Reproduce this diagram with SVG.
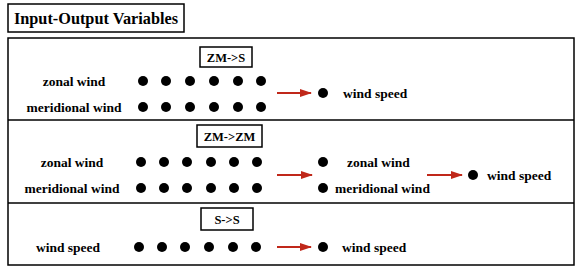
<svg xmlns="http://www.w3.org/2000/svg" width="582" height="274" viewBox="0 0 582 274">
<style>
  .t{font-family:"Liberation Serif","Times New Roman",serif;font-weight:bold;fill:#000}
  .lbl{font-size:13.5px;text-anchor:middle}
  .lbs{font-size:13.5px}
  .box{fill:#fff;stroke:#000;stroke-width:1.5}
  .d{fill:#000}
  .arr{stroke:#c0281a;stroke-width:2.2;fill:none;marker-end:url(#ah)}
</style>
<defs>
  <marker id="ah" markerWidth="12" markerHeight="8" refX="11" refY="4" orient="auto" markerUnits="userSpaceOnUse">
    <path d="M0,0 L12,4 L0,8 Z" fill="#c0281a"/>
  </marker>
</defs>
<rect width="582" height="274" fill="#fff"/>
<g id="title">
  <rect class="box" x="8" y="4" width="176" height="28"/>
  <text class="t" x="96" y="24" font-size="16.3" text-anchor="middle">Input-Output Variables</text>
</g>
<g id="frame">
  <rect class="box" x="8" y="38" width="566" height="227" fill="none"/>
  <line x1="8" y1="120" x2="574" y2="120" stroke="#000" stroke-width="1.5"/>
  <line x1="8" y1="203" x2="574" y2="203" stroke="#000" stroke-width="1.5"/>
</g>
<g id="panel1">
  <rect class="box" x="200" y="47" width="52" height="20"/>
  <text class="t" x="226" y="62" font-size="12.5" text-anchor="middle">ZM-&gt;S</text>
  <text class="t lbl" x="74" y="86">zonal wind</text>
  <text class="t lbl" x="74" y="112">meridional wind</text>
  <g class="d">
    <circle cx="143" cy="81" r="5"/><circle cx="166" cy="81" r="5"/><circle cx="190" cy="81" r="5"/><circle cx="214" cy="81" r="5"/><circle cx="238" cy="81" r="5"/><circle cx="261" cy="81" r="5"/>
    <circle cx="143" cy="107" r="5"/><circle cx="166" cy="107" r="5"/><circle cx="190" cy="107" r="5"/><circle cx="214" cy="107" r="5"/><circle cx="238" cy="107" r="5"/><circle cx="261" cy="107" r="5"/>
    <circle cx="323" cy="93" r="5"/>
  </g>
  <text class="t lbs" x="343" y="98">wind speed</text>
</g>
<g id="panel2">
  <rect class="box" x="197" y="125" width="65" height="22"/>
  <text class="t" x="229.5" y="141" font-size="12.5" text-anchor="middle">ZM-&gt;ZM</text>
  <text class="t lbl" x="72" y="167">zonal wind</text>
  <text class="t lbl" x="72" y="193">meridional wind</text>
  <g class="d">
    <circle cx="141" cy="162" r="5"/><circle cx="164" cy="162" r="5"/><circle cx="187" cy="162" r="5"/><circle cx="211" cy="162" r="5"/><circle cx="234" cy="162" r="5"/><circle cx="257" cy="162" r="5"/>
    <circle cx="141" cy="188" r="5"/><circle cx="164" cy="188" r="5"/><circle cx="187" cy="188" r="5"/><circle cx="211" cy="188" r="5"/><circle cx="234" cy="188" r="5"/><circle cx="257" cy="188" r="5"/>
    <circle cx="323" cy="162" r="5"/><circle cx="323" cy="188" r="5"/>
    <circle cx="473" cy="175" r="5"/>
  </g>
  <text class="t lbs" x="347" y="167">zonal wind</text>
  <text class="t lbs" x="335" y="193">meridional wind</text>
  <text class="t lbs" x="487" y="180">wind speed</text>
</g>
<g id="panel3">
  <rect class="box" x="201" y="208" width="52" height="22"/>
  <text class="t" x="227" y="224" font-size="12.5" text-anchor="middle">S-&gt;S</text>
  <text class="t lbl" x="68" y="252">wind speed</text>
  <g class="d">
    <circle cx="139" cy="247" r="5"/><circle cx="162" cy="247" r="5"/><circle cx="185" cy="247" r="5"/><circle cx="209" cy="247" r="5"/><circle cx="233" cy="247" r="5"/><circle cx="256" cy="247" r="5"/>
    <circle cx="323" cy="247" r="5"/>
  </g>
  <text class="t lbs" x="342" y="252">wind speed</text>
</g>
<g id="connectors">
  <line class="arr" x1="277" y1="93" x2="311" y2="93"/>
  <line class="arr" x1="277" y1="175" x2="312" y2="175"/>
  <line class="arr" x1="427" y1="175" x2="462" y2="175"/>
  <line class="arr" x1="277" y1="247" x2="311" y2="247"/>
</g>
</svg>
